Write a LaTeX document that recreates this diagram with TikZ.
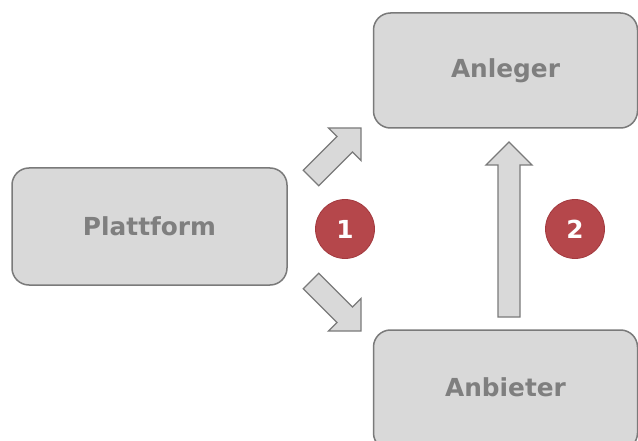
\documentclass[tikz,border=0pt]{standalone}
\usepackage{fontspec}
\setmainfont{DejaVu Sans}
\usetikzlibrary{calc}
\definecolor{boxfill}{HTML}{D9D9D9}
\definecolor{boxline}{HTML}{7A7A7A}
\definecolor{boxtext}{HTML}{7F7F7F}
\definecolor{markfill}{HTML}{B5474B}
\definecolor{markline}{HTML}{A33A3F}
\tikzset{
  party/.style={draw=boxline, line width=1.5pt, fill=boxfill, rounded corners=17pt,
    minimum width=275pt, minimum height=117pt, inner sep=0pt,
    text=boxtext, font=\fontsize{24.8}{30}\selectfont\bfseries},
  stepmark/.style={circle, draw=markline, line width=0.8pt, fill=markfill,
    minimum size=59pt, inner sep=0pt, text=white,
    font=\fontsize{24.8}{30}\selectfont\bfseries},
  blockarrow/.style={draw=boxline, line width=1.3pt, fill=boxfill, line join=miter}
}
% block arrow from tail #1 to tip #2: shaft 22pt wide, 90 degree head 46pt wide
\newcommand{\blockarrowpath}[2]{%
  \coordinate (hb) at ($(#2)!23pt!(#1)$);
  \draw[blockarrow]
    ($(#1)!11pt!90:(#2)$) -- ($(hb)!11pt!90:(#2)$) -- ($(hb)!23pt!90:(#2)$)
    -- (#2) -- ($(hb)!23pt!-90:(#2)$) -- ($(hb)!11pt!-90:(#2)$)
    -- ($(#1)!11pt!-90:(#2)$) -- cycle;
}
\begin{document}
\begin{tikzpicture}[x=1pt,y=-1pt]
  \useasboundingbox (0,0) rectangle (638,441);
  \fill[white] (0,0) rectangle (638,441);
  \begin{scope}
    \clip (0,0) rectangle (638,441);
    \node[party] (plattform) at (149.5,226.5) {Plattform};
    \node[party, minimum width=264pt, minimum height=115pt] (anleger) at (505.5,70.5) {Anleger};
    \node[party, minimum width=264pt, minimum height=120pt, text depth=0pt] (anbieter) at (505.5,390) {};
    \node[text=boxtext, font=\fontsize{24.8}{30}\selectfont\bfseries] (anbieterlabel) at (505.5,387.5) {Anbieter};
  \end{scope}
  % arrows from the platform to both parties, and from the provider to the investor
  \coordinate (upTail) at (311,178);
  \coordinate (upTip) at (361,128);
  \coordinate (downTail) at (311,281);
  \coordinate (downTip) at (361,331);
  \coordinate (vTail) at (509,317);
  \coordinate (vTip) at (509,142);
  \blockarrowpath{upTail}{upTip}
  \blockarrowpath{downTail}{downTip}
  \blockarrowpath{vTail}{vTip}
  \node[stepmark] (one) at (345,229) {1};
  \node[stepmark] (two) at (575,229) {2};
\end{tikzpicture}
\end{document}
